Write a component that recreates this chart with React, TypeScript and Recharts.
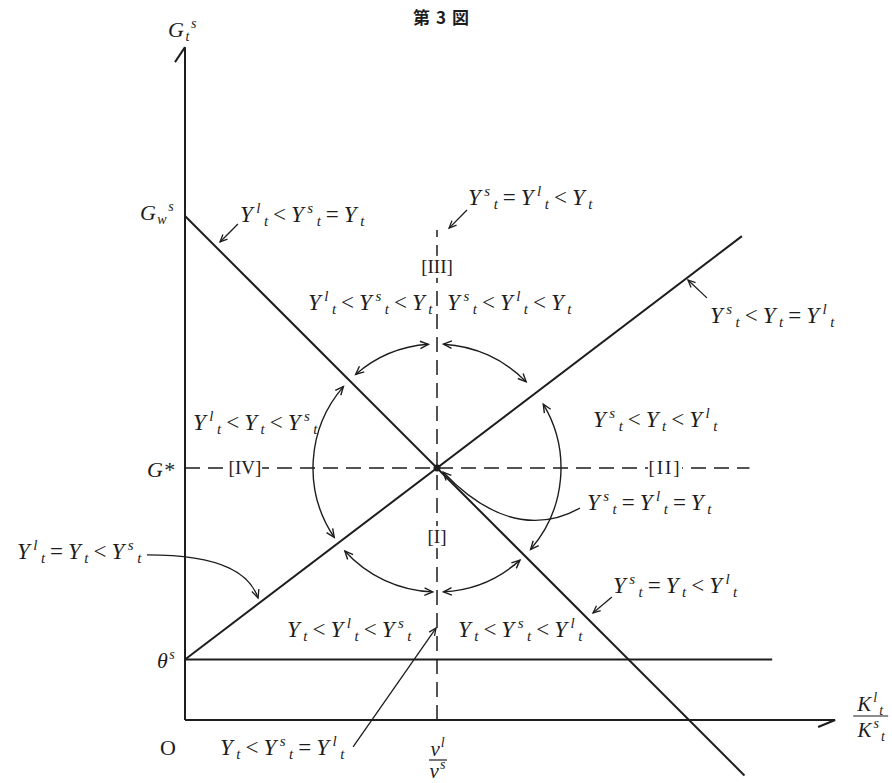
import { ComposedChart, Line, XAxis, YAxis, ReferenceLine, ReferenceDot } from 'recharts';

const INK = '#1d1d1d';
const SERIF = "'Liberation Serif', 'Times New Roman', serif";

// page layout: origin of the diagram sits at (185, 720), 252 px per unit on both axes
const WIDTH = 892;
const HEIGHT = 783;
const ORIGIN_X = 185;
const ORIGIN_Y = 720;
const UNIT = 252;
const X_DOMAIN: [number, number] = [-ORIGIN_X / UNIT, (WIDTH - ORIGIN_X) / UNIT];
const Y_DOMAIN: [number, number] = [-(HEIGHT - ORIGIN_Y) / UNIT, ORIGIN_Y / UNIT];

// model levels
const G_W = 2.0; // G_w^s
const THETA = 0.24; // θ^s
const G_STAR = 1; // G*
const V_RATIO = 1; // v^l / v^s
const X_END = 2.58;
const Y_END = 2.67;
const G_STAR_END = 2.24;
const V_LINE_TOP = 1.944;

const warrantedLine = [
  { x: 0, y: G_W },
  { x: 2.22, y: -0.22 },
];
const capitalLine = [
  { x: 0, y: THETA },
  { x: 2.21, y: 1.92 },
];
const thetaLine = [
  { x: 0, y: THETA },
  { x: 2.33, y: THETA },
];

// adjustment cycle round the equilibrium: radius and arc spans (degrees)
const CYCLE_RADIUS = 0.492;
const cycleArcs: [number, number][] = [
  [131, 94],
  [87, 44],
  [31, -41],
  [-48, -87],
  [268, 222],
  [214, 139],
];

const regionLabels = [
  { text: 'Y^l_t<Y^s_t=Y_t', x: 0.218, y: 1.976 },
  { text: 'Y^s_t=Y^l_t<Y_t', x: 1.123, y: 2.044 },
  { text: 'Y^l_t<Y^s_t<Y_t', x: 0.488, y: 1.627 },
  { text: 'Y^s_t<Y^l_t<Y_t', x: 1.04, y: 1.627 },
  { text: 'Y^s_t<Y_t=Y^l_t', x: 2.083, y: 1.575 },
  { text: 'Y^l_t<Y_t<Y^s_t', x: 0.032, y: 1.151 },
  { text: 'Y^s_t<Y_t<Y^l_t', x: 1.619, y: 1.163 },
  { text: 'Y^s_t=Y^l_t=Y_t', x: 1.595, y: 0.833 },
  { text: 'Y^l_t=Y_t<Y^s_t', x: -0.667, y: 0.639 },
  { text: 'Y^s_t=Y_t<Y^l_t', x: 1.698, y: 0.504 },
  { text: 'Y_t<Y^l_t<Y^s_t', x: 0.405, y: 0.329 },
  { text: 'Y_t<Y^s_t<Y^l_t', x: 1.083, y: 0.329 },
  { text: 'Y_t<Y^s_t=Y^l_t', x: 0.139, y: -0.139 },
];

const axisLabels = [
  { text: 'G_t^s', x: -0.067, y: 2.71 },
  { text: 'G_w^s', x: -0.179, y: 1.984 },
  { text: 'G*', x: -0.151, y: 0.964 },
  { text: 'θ^s', x: -0.111, y: 0.206 },
];

const phaseLabels = [
  { text: '[III]', x: V_RATIO, y: 1.798 },
  { text: '[IV]', x: 0.238, y: G_STAR },
  { text: '[II]', x: 1.905, y: G_STAR },
  { text: '[I]', x: V_RATIO, y: 0.726 },
];

const pointers = [
  { from: { x: 0.21, y: 1.968 }, to: { x: 0.139, y: 1.897 } },
  { from: { x: 1.119, y: 2.024 }, to: { x: 1.048, y: 1.952 } },
  { from: { x: 2.071, y: 1.675 }, to: { x: 1.996, y: 1.746 } },
  { from: { x: 1.694, y: 0.488 }, to: { x: 1.619, y: 0.425 } },
  { from: { x: 0.667, y: -0.107 }, to: { x: 0.996, y: 0.365 } },
];

// bend: two control points as (along, across) fractions of the chord
const curvedPointers = [
  {
    from: { x: 1.567, y: 0.841 },
    to: { x: 1.024, y: 0.984 },
    bend: [
      [0.186, -0.18],
      [0.503, -0.307],
    ],
  },
  {
    from: { x: -0.151, y: 0.655 },
    to: { x: 0.29, y: 0.484 },
    bend: [
      [0.611, -0.237],
      [0.868, -0.155],
    ],
  },
];

type Piece = { t: string; kind: 'base' | 'sup' | 'sub' | 'op' | 'mark' };

function parse(src: string): Piece[] {
  const out: Piece[] = [];
  for (let i = 0; i < src.length; i++) {
    const c = src[i];
    if ((c === '^' || c === '_') && i + 1 < src.length) {
      out.push({ t: src[i + 1], kind: c === '^' ? 'sup' : 'sub' });
      i++;
    } else if (c === '<' || c === '=') {
      out.push({ t: c, kind: 'op' });
    } else if (c === '*') {
      out.push({ t: c, kind: 'mark' });
    } else {
      out.push({ t: c, kind: 'base' });
    }
  }
  return out;
}

const BASE_SIZE = 23;
const SCRIPT_SIZE = 15;
const SUP_RISE = 9;
const SUB_DROP = 4;
const OP_GAP = 1.5;

function Formula({
  x,
  y,
  src,
  size = BASE_SIZE,
  scriptSize = SCRIPT_SIZE,
  anchor = 'start',
  spacing = 3.5,
}: {
  x: number;
  y: number;
  src: string;
  size?: number;
  scriptSize?: number;
  anchor?: 'start' | 'middle';
  spacing?: number;
}) {
  let level = 0;
  let afterOp = false;
  const spans = parse(src).map((p, i) => {
    const target = p.kind === 'sup' ? -SUP_RISE : p.kind === 'sub' ? SUB_DROP : 0;
    const dy = target - level;
    level = target;
    const dx = p.kind === 'op' || afterOp ? OP_GAP : 0;
    afterOp = p.kind === 'op';
    const script = p.kind === 'sup' || p.kind === 'sub';
    const upright = p.kind === 'op' || p.kind === 'mark';
    return (
      <tspan
        key={i}
        dx={dx}
        dy={dy}
        fontSize={script ? scriptSize : size}
        fontStyle={upright ? 'normal' : 'italic'}
      >
        {p.t}
      </tspan>
    );
  });
  return (
    <text
      x={x}
      y={y}
      fontFamily={SERIF}
      fill={INK}
      letterSpacing={spacing}
      textAnchor={anchor}
    >
      {spans}
    </text>
  );
}

function arrowHead(tx: number, ty: number, dx: number, dy: number, len = 9, spread = 0.42) {
  const a = Math.atan2(dy, dx);
  const b1x = tx - len * Math.cos(a - spread);
  const b1y = ty - len * Math.sin(a - spread);
  const b2x = tx - len * Math.cos(a + spread);
  const b2y = ty - len * Math.sin(a + spread);
  return `M${b1x},${b1y} L${tx},${ty} L${b2x},${b2y}`;
}

function CycleArcs(props: any) {
  const { x1, y1, x2 } = props;
  const r = Math.abs(x2 - x1);
  const rad = (d: number) => (d * Math.PI) / 180;
  const pt = (d: number) => [x1 + r * Math.cos(rad(d)), y1 - r * Math.sin(rad(d))];
  return (
    <g fill="none" stroke={INK} strokeWidth={1.4}>
      {cycleArcs.map(([a1, a2], i) => {
        const p1 = pt(a1);
        const p2 = pt(a2);
        const ccw = a2 > a1;
        const large = Math.abs(a2 - a1) > 180 ? 1 : 0;
        const s = ccw ? 1 : -1;
        const t2 = [-Math.sin(rad(a2)) * s, -Math.cos(rad(a2)) * s];
        const t1 = [-Math.sin(rad(a1)) * s, -Math.cos(rad(a1)) * s];
        return (
          <g key={i}>
            <path d={`M${p1[0]},${p1[1]} A${r},${r} 0 ${large} ${ccw ? 0 : 1} ${p2[0]},${p2[1]}`} />
            <path d={arrowHead(p2[0], p2[1], t2[0], t2[1])} />
            <path d={arrowHead(p1[0], p1[1], -t1[0], -t1[1])} />
          </g>
        );
      })}
    </g>
  );
}

function StraightPointer(props: any) {
  const { x1, y1, x2, y2 } = props;
  return (
    <g fill="none" stroke={INK} strokeWidth={1.3}>
      <line x1={x1} y1={y1} x2={x2} y2={y2} />
      <path d={arrowHead(x2, y2, x2 - x1, y2 - y1, 8)} />
    </g>
  );
}

function makeCurvedPointer(bend: number[][]) {
  return function CurvedPointer(props: any) {
    const { x1, y1, x2, y2 } = props;
    const dx = x2 - x1;
    const dy = y2 - y1;
    const len = Math.hypot(dx, dy);
    const nx = -dy / len;
    const ny = dx / len;
    const [c1, c2] = bend.map(([along, across]) => [
      x1 + along * dx + across * len * nx,
      y1 + along * dy + across * len * ny,
    ]);
    return (
      <g fill="none" stroke={INK} strokeWidth={1.3}>
        <path d={`M${x1},${y1} C${c1[0]},${c1[1]} ${c2[0]},${c2[1]} ${x2},${y2}`} />
        <path d={arrowHead(x2, y2, x2 - c2[0], y2 - c2[1], 9)} />
      </g>
    );
  };
}

function AxisArrow(barb: [number, number]) {
  return function Axis(props: any) {
    const { x1, y1, x2, y2 } = props;
    return (
      <g fill="none" stroke={INK} strokeWidth={2}>
        <line x1={x1} y1={y1} x2={x2} y2={y2} />
        <line x1={x2} y1={y2} x2={x2 + barb[0]} y2={y2 + barb[1]} />
      </g>
    );
  };
}

function PhaseLabel(text: string) {
  return function Label(props: any) {
    const { cx, cy } = props;
    return (
      <g>
        <rect x={cx - 17} y={cy - 11} width={34} height={22} fill="#fff" />
        <text
          x={cx}
          y={cy + 6}
          textAnchor="middle"
          fontFamily={SERIF}
          fontSize={19}
          letterSpacing={text === '[II]' ? 2 : 0}
          fill={INK}
        >
          {text}
        </text>
      </g>
    );
  };
}

export default function App() {
  return (
    <div
      style={{
        position: 'absolute',
        left: 0,
        top: 0,
        width: WIDTH,
        height: HEIGHT,
        background: '#fff',
      }}
    >
      <div
        style={{
          position: 'absolute',
          left: 413,
          top: 7,
          fontFamily: "'Noto Sans CJK JP', sans-serif",
          fontWeight: 700,
          fontSize: 17,
          lineHeight: '20px',
          letterSpacing: 6,
          color: INK,
        }}
      >
        第3図
      </div>
      <ComposedChart width={WIDTH} height={HEIGHT} margin={{ top: 0, right: 0, bottom: 0, left: 0 }}>
        <XAxis type="number" dataKey="x" domain={X_DOMAIN} allowDataOverflow hide />
        <YAxis type="number" dataKey="y" domain={Y_DOMAIN} allowDataOverflow hide />

        <ReferenceLine
          ifOverflow="visible"
          segment={[
            { x: 0, y: 0 },
            { x: 0, y: Y_END },
          ]}
          shape={AxisArrow([-10, 15])}
        />
        <ReferenceLine
          ifOverflow="visible"
          segment={[
            { x: 0, y: 0 },
            { x: X_END, y: 0 },
          ]}
          shape={AxisArrow([-17, 7])}
        />

        <ReferenceLine
          ifOverflow="visible"
          segment={[
            { x: 0, y: G_STAR },
            { x: G_STAR_END, y: G_STAR },
          ]}
          stroke={INK}
          strokeWidth={1.5}
          strokeDasharray="15 8"
        />
        <ReferenceLine
          ifOverflow="visible"
          segment={[
            { x: V_RATIO, y: 0 },
            { x: V_RATIO, y: V_LINE_TOP },
          ]}
          stroke={INK}
          strokeWidth={1.5}
          strokeDasharray="15 8"
        />

        <Line data={warrantedLine} dataKey="y" type="linear" stroke={INK} strokeWidth={2} dot={false} activeDot={false} isAnimationActive={false} />
        <Line data={capitalLine} dataKey="y" type="linear" stroke={INK} strokeWidth={2} dot={false} activeDot={false} isAnimationActive={false} />
        <Line data={thetaLine} dataKey="y" type="linear" stroke={INK} strokeWidth={1.8} dot={false} activeDot={false} isAnimationActive={false} />

        <ReferenceLine
          ifOverflow="visible"
          segment={[
            { x: V_RATIO, y: G_STAR },
            { x: V_RATIO + CYCLE_RADIUS, y: G_STAR },
          ]}
          shape={CycleArcs}
        />

        <ReferenceDot x={V_RATIO} y={G_STAR} r={3.5} fill={INK} stroke="none" ifOverflow="visible" />

        {pointers.map((p, i) => (
          <ReferenceLine key={`p${i}`} ifOverflow="visible" segment={[p.from, p.to]} shape={StraightPointer} />
        ))}
        {curvedPointers.map((p, i) => (
          <ReferenceLine
            key={`c${i}`}
            ifOverflow="visible"
            segment={[p.from, p.to]}
            shape={makeCurvedPointer(p.bend)}
          />
        ))}

        {phaseLabels.map((l) => (
          <ReferenceDot key={l.text} x={l.x} y={l.y} r={1} ifOverflow="visible" shape={PhaseLabel(l.text)} />
        ))}

        {regionLabels.map((l, i) => (
          <ReferenceDot
            key={`r${i}`}
            x={l.x}
            y={l.y}
            r={1}
            ifOverflow="visible"
            shape={(p: any) => <Formula x={p.cx} y={p.cy} src={l.text} />}
          />
        ))}

        {axisLabels.map((l) => (
          <ReferenceDot
            key={l.text}
            x={l.x}
            y={l.y}
            r={1}
            ifOverflow="visible"
            shape={(p: any) => <Formula x={p.cx} y={p.cy} src={l.text} size={22} scriptSize={14} spacing={1.5} />}
          />
        ))}

        <ReferenceDot
          x={-0.099}
          y={-0.139}
          r={1}
          ifOverflow="visible"
          shape={(p: any) => (
            <text x={p.cx} y={p.cy} fontFamily={SERIF} fontSize={22} fill={INK}>
              O
            </text>
          )}
        />

        <ReferenceDot
          x={V_RATIO}
          y={0}
          r={1}
          ifOverflow="visible"
          shape={(p: any) => (
            <g>
              <Formula x={p.cx + 1} y={p.cy + 36} src="v^l" size={21} scriptSize={14} anchor="middle" spacing={1} />
              <line x1={p.cx - 8} y1={p.cy + 40} x2={p.cx + 10} y2={p.cy + 40} stroke={INK} strokeWidth={1.2} />
              <Formula x={p.cx + 1} y={p.cy + 58} src="v^s" size={21} scriptSize={14} anchor="middle" spacing={1} />
            </g>
          )}
        />

        <ReferenceDot
          x={X_END}
          y={0}
          r={1}
          ifOverflow="visible"
          shape={(p: any) => (
            <g>
              <Formula x={p.cx + 36} y={p.cy - 9} src="K^l_t" size={21} scriptSize={14} anchor="middle" spacing={2} />
              <line x1={p.cx + 18} y1={p.cy - 4} x2={p.cx + 53} y2={p.cy - 4} stroke={INK} strokeWidth={1.2} />
              <Formula x={p.cx + 37} y={p.cy + 17} src="K^s_t" size={21} scriptSize={14} anchor="middle" spacing={2} />
            </g>
          )}
        />
      </ComposedChart>
    </div>
  );
}
